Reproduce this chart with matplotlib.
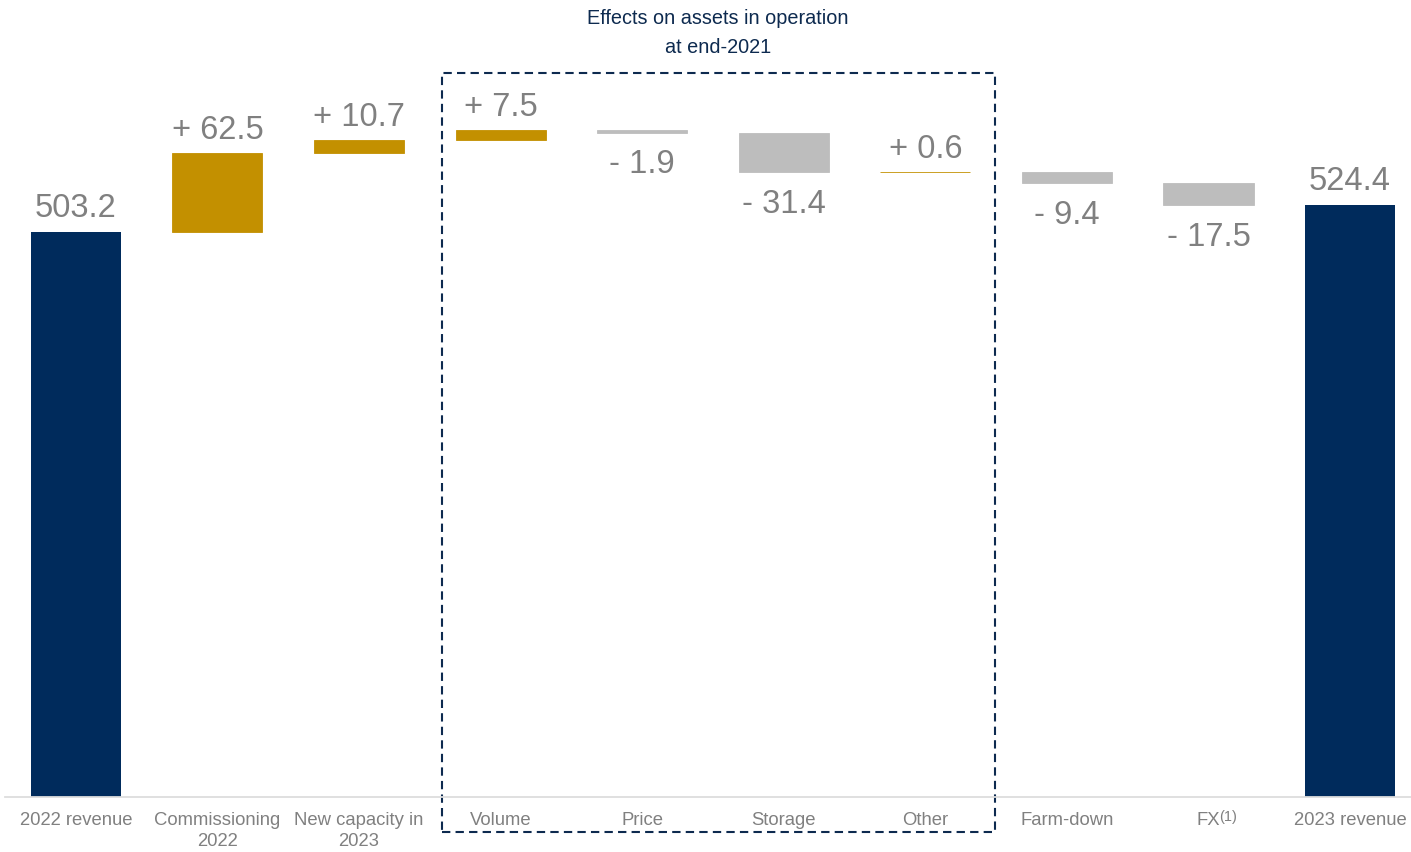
import matplotlib.pyplot as plt
from matplotlib.patches import Rectangle

plt.rcParams['font.family'] = ['Liberation Sans', 'DejaVu Sans']

# waterfall data
categories = ['2022 revenue', 'Commissioning\n2022', 'New capacity in\n2023', 'Volume', 'Price',
              'Storage', 'Other', 'Farm-down', 'FX', '2023 revenue']
start_value = 503.2
changes = [62.5, 10.7, 7.5, -1.9, -31.4, 0.6, -9.4, -17.5]
end_value = 524.4

NAVY = '#002B5C'
GOLD = '#C39000'
GREY = '#BDBDBD'
TXT = '#808080'

fig = plt.figure(figsize=(14.11, 8.52), dpi=100)
ax = fig.add_axes([5 / 1411, 55 / 852, 1406 / 1411, 797 / 852])

w = 0.636
x = list(range(len(categories)))

# first bar
ax.bar(x[0], start_value, width=w, color=NAVY)
ax.annotate(f'{start_value:.1f}', (x[0], start_value), xytext=(0, 6), textcoords='offset points',
            ha='center', va='bottom', fontsize=23.5, color=TXT)

# increments
running = start_value
for i, d in enumerate(changes, start=1):
    col = GOLD if d > 0 else GREY
    bottom = running if d > 0 else running + d
    ax.bar(x[i], abs(d), bottom=bottom, width=w, color=col, edgecolor=col, linewidth=0.6)
    if d > 0:
        ax.annotate(f'+ {d:.1f}', (x[i], running + d), xytext=(0, 5), textcoords='offset points',
                    ha='center', va='bottom', fontsize=23.5, color=TXT)
    else:
        ax.annotate(f'- {abs(d):.1f}', (x[i], running + d), xytext=(0, -12), textcoords='offset points',
                    ha='center', va='top', fontsize=23.5, color=TXT)
    running += d

# last bar
ax.bar(x[-1], end_value, width=w, color=NAVY)
ax.annotate(f'{end_value:.1f}', (x[-1], end_value), xytext=(0, 6), textcoords='offset points',
            ha='center', va='bottom', fontsize=23.5, color=TXT)

ax.set_xlim(-0.5, 9.43)
ax.set_ylim(54.5, 687.5)
ax.set_xticks(x)
ax.set_xticklabels(categories, fontsize=13.3, color=TXT, linespacing=1.3)
ax.tick_params(axis='x', length=0, pad=11)
ax.set_yticks([])
for s in ['top', 'right', 'left']:
    ax.spines[s].set_visible(False)
ax.spines['bottom'].set_color('#DDDDDD')
ax.spines['bottom'].set_linewidth(1.3)

# footnote marker on FX
ax.text(8.075, -0.0165, '(1)', transform=ax.get_xaxis_transform(), ha='left', va='top',
        fontsize=10.5, color=TXT)

# dashed box around the operating-asset effects
box = Rectangle((2.585, 26.5), 6.49 - 2.585, 629.5 - 26.5, fill=False, edgecolor='#0D2A4F',
                linewidth=1.5, linestyle=(0, (4, 2.5)), clip_on=False)
ax.add_patch(box)
fig.text(718 / 1411, 1 - 9 / 852, 'Effects on assets in operation\nat end-2021', ha='center', va='top',
         fontsize=14.3, color='#0D2A4F', linespacing=1.65)

plt.savefig('out.png', dpi=100)
